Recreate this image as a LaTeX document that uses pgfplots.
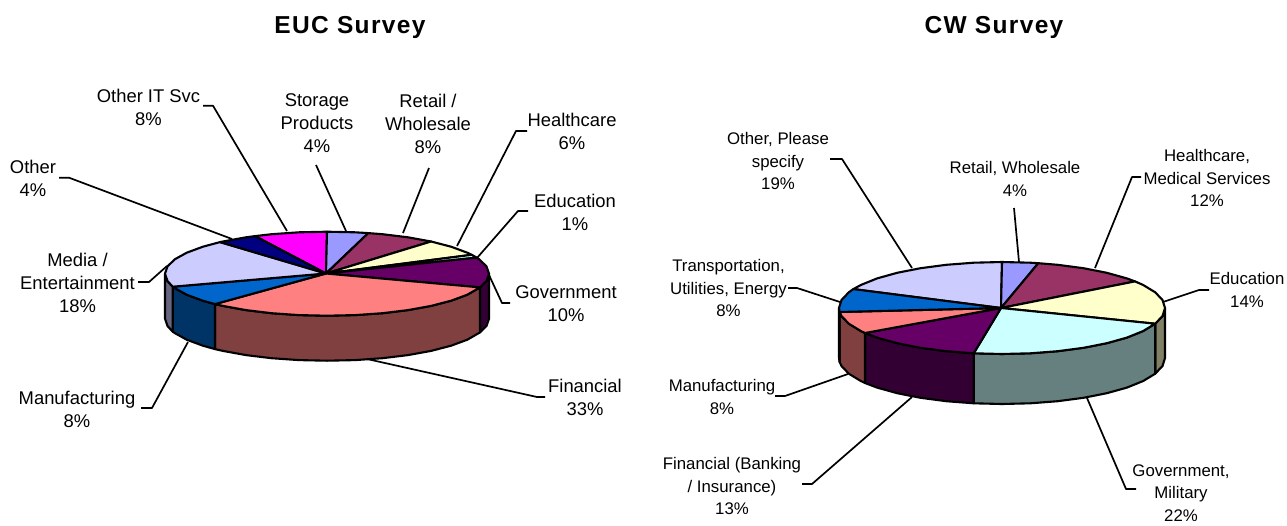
\documentclass[border=0pt]{standalone}
\usepackage{pgfplots}
\pgfplotsset{compat=1.18}
\usepackage{fontspec}
\setmainfont{Liberation Sans}
\newfontfamily\titlefont[LetterSpace=5.5]{Liberation Sans}
\definecolor{cStorage}{HTML}{9999FF}
\definecolor{cRetail}{HTML}{993366}
\definecolor{cHealth}{HTML}{FFFFCC}
\definecolor{cEdu}{HTML}{CCFFFF}
\definecolor{cGov}{HTML}{660066}
\definecolor{cFin}{HTML}{FF8080}
\definecolor{cMan}{HTML}{0066CC}
\definecolor{cMedia}{HTML}{CCCCFF}
\definecolor{cOther}{HTML}{000080}
\definecolor{cIT}{HTML}{FF00FF}
\definecolor{sGov}{HTML}{330033}
\definecolor{sFin}{HTML}{804040}
\definecolor{sMan}{HTML}{003366}
\definecolor{sMedia}{HTML}{666680}
\definecolor{sEdu}{HTML}{668080}
\definecolor{sHealth}{HTML}{808066}
\newcommand{\lblA}[3]{\node[align=center,font=\fontsize{18.4}{23}\selectfont,inner sep=0pt] at (axis cs:#1,#2) {#3};}
\newcommand{\lblB}[3]{\node[align=center,font=\fontsize{16.8}{22.5}\selectfont,inner sep=0pt] at (axis cs:#1,#2) {#3};}
\begin{document}
\begin{tikzpicture}
\path[use as bounding box] (0,0) rectangle (1287pt,525pt);
\begin{axis}[scale only axis,width=1287pt,height=525pt,xmin=0,xmax=1287,ymin=0,ymax=525,y dir=reverse,
  axis lines=none,clip=false,
  every axis plot/.append style={line join=round,no markers,solid},
  pie/.style={draw=black,line width=2.1pt},
  lead/.style={draw=black,line width=1.7pt,fill=none}]
% EUC sides
\addplot[pie,fill=sGov] coordinates {(489,273.7)(486.5,281)(480,287.4)(480,332.4)(486.5,326)(489,318.7)} --cycle;
\addplot[pie,fill=sFin] coordinates {(480,287.4)(467.3,294.7)(451.1,300.7)(431.1,305.9)(408,310.1)(382.4,313.2)(355.1,315.1)(327,315.7)(298.9,315.1)(271.6,313.2)(246,310.1)(222.9,305.9)(215,304.1)(215,349.1)(222.9,350.9)(246,355.1)(271.6,358.2)(298.9,360.1)(327,360.7)(355.1,360.1)(382.4,358.2)(408,355.1)(431.1,350.9)(451.1,345.7)(467.3,339.7)(480,332.4)} --cycle;
\addplot[pie,fill=sMan] coordinates {(215,304.1)(202.9,300.7)(186.7,294.7)(174.8,288.1)(172.7,286.7)(172.7,331.7)(174.8,333.1)(186.7,339.7)(202.9,345.7)(215,349.1)} --cycle;
\addplot[pie,fill=sMedia] coordinates {(172.7,286.7)(167.5,281)(165,273.7)(165,318.7)(167.5,326)(172.7,331.7)} --cycle;
% EUC top
\addplot[pie,fill=cIT] coordinates {(326,273.5)(255,236.1)(271.6,234.2)(298.9,232.3)(327,231.7)} --cycle;
\addplot[pie,fill=cStorage] coordinates {(326,273.5)(327,231.7)(355.1,232.3)(368.3,233.1)} --cycle;
\addplot[pie,fill=cRetail] coordinates {(326,273.5)(368.3,233.1)(382.4,234.2)(408,237.3)(431.1,241.5)} --cycle;
\addplot[pie,fill=cHealth] coordinates {(326,273.5)(431.1,241.5)(451.1,246.7)(467.3,252.7)(471.7,254.8)} --cycle;
\addplot[pie,fill=cEdu] coordinates {(326,273.5)(471.7,254.8)(476.7,257.6)} --cycle;
\addplot[pie,fill=cGov] coordinates {(326,273.5)(476.7,257.6)(479.2,259.3)(486.5,266.4)(489,273.7)(486.5,281)(480,287.4)} --cycle;
\addplot[pie,fill=cFin] coordinates {(326,273.5)(480,287.4)(467.3,294.7)(451.1,300.7)(431.1,305.9)(408,310.1)(382.4,313.2)(355.1,315.1)(327,315.7)(298.9,315.1)(271.6,313.2)(246,310.1)(222.9,305.9)(215,304.1)} --cycle;
\addplot[pie,fill=cMan] coordinates {(326,273.5)(215,304.1)(202.9,300.7)(186.7,294.7)(174.8,288.1)(172.7,286.7)} --cycle;
\addplot[pie,fill=cMedia] coordinates {(326,273.5)(172.7,286.7)(167.5,281)(165,273.7)(167.5,266.4)(174.8,259.3)(186.7,252.7)(202.9,246.7)(220,242.1)} --cycle;
\addplot[pie,fill=cOther] coordinates {(326,273.5)(220,242.1)(222.9,241.5)(246,237.3)(255,236.1)} --cycle;
% CW sides
\addplot[pie,fill=sHealth] coordinates {(1165,308)(1162.5,316)(1155.2,323.7)(1155.2,373.7)(1162.5,366)(1165,358)} --cycle;
\addplot[pie,fill=sEdu] coordinates {(1155.2,323.7)(1143.2,331)(1126.9,337.6)(1106.8,343.2)(1083.5,347.8)(1057.7,351.2)(1030.3,353.3)(1002,354)(973.7,353.3)(973.7,403.3)(1002,404)(1030.3,403.3)(1057.7,401.2)(1083.5,397.8)(1106.8,393.2)(1126.9,387.6)(1143.2,381)(1155.2,373.7)} --cycle;
\addplot[pie,fill=sGov] coordinates {(973.7,353.3)(946.3,351.2)(920.5,347.8)(897.2,343.2)(877.1,337.6)(865,333)(865,383)(877.1,387.6)(897.2,393.2)(920.5,397.8)(946.3,401.2)(973.7,403.3)} --cycle;
\addplot[pie,fill=sFin] coordinates {(865,333)(860.8,331)(848.8,323.7)(841.5,316)(839.6,312)(839.6,362)(841.5,366)(848.8,373.7)(860.8,381)(865,383)} --cycle;
\addplot[pie,fill=sMan] coordinates {(839.6,312)(839,308)(839,358)(839.6,362)} --cycle;
% CW top
\addplot[pie,fill=cMedia] coordinates {(1001,308)(853.3,289.1)(860.8,285)(877.1,278.4)(897.2,272.8)(920.5,268.2)(946.3,264.8)(973.7,262.7)(1002,262)} --cycle;
\addplot[pie,fill=cStorage] coordinates {(1001,308)(1002,262)(1030.3,262.7)(1038.3,263.2)} --cycle;
\addplot[pie,fill=cRetail] coordinates {(1001,308)(1038.3,263.2)(1057.7,264.8)(1083.5,268.2)(1106.8,272.8)(1126.9,278.4)(1135,281.4)} --cycle;
\addplot[pie,fill=cHealth] coordinates {(1001,308)(1135,281.4)(1143.2,285)(1155.2,292.3)(1162.5,300)(1165,308)(1162.5,316)(1155.2,323.7)} --cycle;
\addplot[pie,fill=cEdu] coordinates {(1001,308)(1155.2,323.7)(1143.2,331)(1126.9,337.6)(1106.8,343.2)(1083.5,347.8)(1057.7,351.2)(1030.3,353.3)(1002,354)(973.7,353.3)} --cycle;
\addplot[pie,fill=cGov] coordinates {(1001,308)(973.7,353.3)(946.3,351.2)(920.5,347.8)(897.2,343.2)(877.1,337.6)(865,333)} --cycle;
\addplot[pie,fill=cFin] coordinates {(1001,308)(865,333)(860.8,331)(848.8,323.7)(841.5,316)(839.6,312)} --cycle;
\addplot[pie,fill=cMan] coordinates {(1001,308)(839.6,312)(839,308)(841.5,300)(848.8,292.3)(853.3,289.1)} --cycle;
% EUC leaders
\addplot[lead] coordinates {(203,105.7)(213,105.7)(287,231)};
\addplot[lead] coordinates {(316,165)(346,231)};
\addplot[lead] coordinates {(429,168)(403,233)};
\addplot[lead] coordinates {(527,131)(516,131)(457,246)};
\addplot[lead] coordinates {(528,211)(518,211)(477,258)};
\addplot[lead] coordinates {(510,303)(502,303)(489,275)};
\addplot[lead] coordinates {(545,397)(537,397)(367,359)};
\addplot[lead] coordinates {(141,408)(152,408)(188,342)};
\addplot[lead] coordinates {(138,282)(149,282)(167,266)};
\addplot[lead] coordinates {(59,177.7)(69,177.7)(232,239)};
% CW leaders
\addplot[lead] coordinates {(830,159)(842,159)(912,268)};
\addplot[lead] coordinates {(1014,208)(1019,262)};
\addplot[lead] coordinates {(1141,177)(1132,177)(1095,268)};
\addplot[lead] coordinates {(1209,290)(1199,290)(1163,302)};
\addplot[lead] coordinates {(1136,489)(1126,489)(1087,398)};
\addplot[lead] coordinates {(802,484)(812,484)(912,397)};
\addplot[lead] coordinates {(775,396)(785,396)(848,374)};
\addplot[lead] coordinates {(788,288)(797,288)(840,302)};
% Titles
\node[font=\fontsize{24.5}{28}\selectfont\bfseries\titlefont,inner sep=0pt] at (axis cs:350,27) {EUC Survey};
\node[font=\fontsize{24.5}{28}\selectfont\bfseries\titlefont,inner sep=0pt] at (axis cs:994,27) {CW Survey};
% EUC labels
\lblA{148.5}{107}{Other IT Svc\\8\%}
\lblA{317}{123}{Storage\\Products\\4\%}
\lblA{428}{124}{Retail /\\Wholesale\\8\%}
\lblA{572}{131}{Healthcare\\6\%}
\lblA{575}{212}{Education\\1\%}
\lblA{566}{304}{Government\\10\%}
\lblA{585}{397}{Financial\\33\%}
\lblA{77}{409}{Manufacturing\\8\%}
\lblA{77.5}{283}{Media /\\Entertainment\\18\%}
\lblA{33}{178}{Other\\4\%}
% CW labels
\lblB{778}{161}{Other, Please\\specify\\19\%}
\lblB{1015}{179}{Retail, Wholesale\\4\%}
\lblB{1207}{178}{Healthcare,\\Medical Services\\12\%}
\lblB{1247}{290}{Education\\14\%}
\lblB{728.5}{288}{Transportation,\\Utilities, Energy\\8\%}
\lblB{722}{397}{Manufacturing\\8\%}
\lblB{732}{486}{Financial (Banking\\/ Insurance)\\13\%}
\lblB{1181}{493}{Government,\\Military\\22\%}
\end{axis}
\end{tikzpicture}
\end{document}
